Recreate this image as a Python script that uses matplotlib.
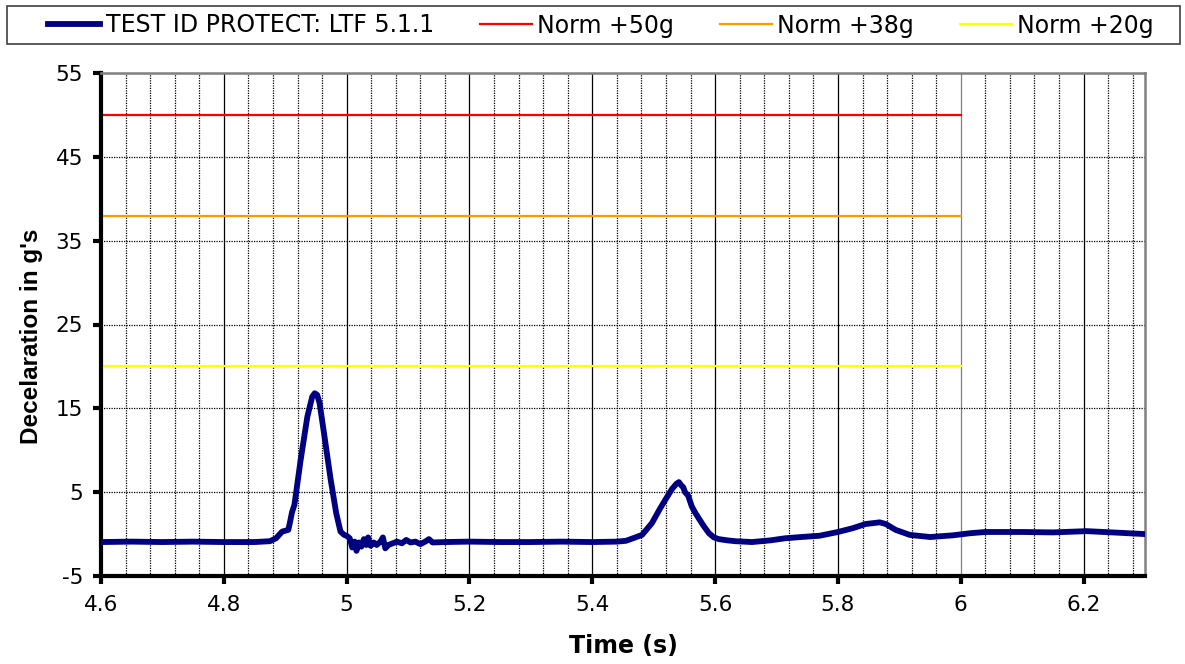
import numpy as np
import matplotlib
matplotlib.use("Agg")
from matplotlib import pyplot as plt
from matplotlib.patches import Rectangle

plt.rcParams["axes.unicode_minus"] = False

time_s = [4.60, 4.65, 4.70, 4.75, 4.80, 4.85, 4.875, 4.885, 4.895, 4.905,
          4.908, 4.911, 4.915, 4.925, 4.936, 4.944, 4.948, 4.952, 4.956, 4.963,
          4.974, 4.983, 4.990, 4.996,
          5.000, 5.005, 5.009, 5.013, 5.016, 5.020, 5.024, 5.028, 5.032, 5.035,
          5.039, 5.044, 5.049, 5.055, 5.059, 5.063, 5.068, 5.075, 5.082, 5.090,
          5.097, 5.104, 5.112, 5.120, 5.128, 5.134, 5.140,
          5.16, 5.20, 5.25, 5.30, 5.35, 5.40, 5.44, 5.455, 5.47, 5.481,
          5.497, 5.510, 5.519, 5.530, 5.537, 5.541, 5.545, 5.548, 5.551, 5.556,
          5.562, 5.568, 5.574, 5.582, 5.590, 5.598, 5.606, 5.620, 5.633, 5.660,
          5.690, 5.714, 5.740, 5.770, 5.800, 5.824, 5.845, 5.868, 5.878, 5.894,
          5.917, 5.950, 5.987, 6.015, 6.040, 6.100, 6.150, 6.205, 6.260, 6.300]
decel_g = [-0.95, -0.9, -0.95, -0.9, -0.95, -0.95, -0.85, -0.5, 0.3, 0.5,
           1.5, 2.6, 3.5, 8.8, 14.0, 16.4, 16.8, 16.6, 15.6, 12.1,
           6.5, 2.5, 0.3, -0.1,
           -0.2, -0.5, -1.6, -0.9, -2.0, -1.0, -1.5, -0.6, -1.3, -0.4,
           -1.4, -1.0, -1.3, -0.9, -0.4, -1.7, -1.3, -1.1, -0.9, -1.1,
           -0.7, -1.0, -0.9, -1.2, -0.9, -0.6, -1.0,
           -0.95, -0.9, -0.95, -0.95, -0.9, -0.95, -0.9, -0.8, -0.4, -0.1,
           1.3, 3.0, 4.1, 5.4, 6.0, 6.2, 5.8, 5.6, 5.0, 4.6,
           3.3, 2.5, 1.8, 0.9, 0.1, -0.4, -0.6, -0.75, -0.85, -0.95,
           -0.75, -0.5, -0.35, -0.2, 0.25, 0.7, 1.2, 1.4, 1.2, 0.5,
           -0.1, -0.35, -0.15, 0.1, 0.25, 0.25, 0.2, 0.35, 0.15, 0.0]

norm_t = [4.6, 6.0]
norm_50 = [50, 50]
norm_38 = [38, 38]
norm_20 = [20, 20]

x_major = [4.6, 4.8, 5.0, 5.2, 5.4, 5.6, 5.8, 6.0, 6.2]
x_labels = ["4.6", "4.8", "5", "5.2", "5.4", "5.6", "5.8", "6", "6.2"]
y_major = [-5, 5, 15, 25, 35, 45, 55]

fig = plt.figure(figsize=(11.85, 6.64), dpi=100)
ax = fig.add_axes([101/1185, 1-576/664, (1145-101)/1185, (576-73)/664])

ax.set_xlim(4.6, 6.3)
ax.set_ylim(-5, 55)
ax.set_xticks(x_major)
ax.set_xticklabels(x_labels)
ax.set_xticks(np.round(np.arange(4.64, 6.3, 0.04), 2), minor=True)
ax.set_yticks(y_major)

# grid
ax.grid(which="major", axis="x", color="black", linewidth=0.9)
ax.grid(which="minor", axis="x", color="black", linewidth=0.9, linestyle=(0, (1, 1)))
ax.grid(which="major", axis="y", color="black", linewidth=0.9, linestyle=(0, (1, 1)))
ax.get_xgridlines()[7].set_color("#808080")
ax.set_axisbelow(True)

l1, = ax.plot(time_s, decel_g, color="#000080", linewidth=4.2,
              solid_joinstyle="round", label="TEST ID PROTECT: LTF 5.1.1", zorder=5)
l2, = ax.plot(norm_t, norm_50, color="#FF0000", linewidth=1.6, label="Norm +50g")
l3, = ax.plot(norm_t, norm_38, color="#FF9900", linewidth=1.6, label="Norm +38g")
l4, = ax.plot(norm_t, norm_20, color="#FFFF00", linewidth=1.6, label="Norm +20g")

ax.tick_params(axis="both", which="major", direction="out", length=6, width=3,
               labelsize=15.5, color="black")
ax.tick_params(axis="x", which="minor", length=0)
ax.tick_params(axis="x", pad=8)
ax.tick_params(axis="y", pad=7)

for s in ["left", "bottom"]:
    ax.spines[s].set_linewidth(3)
    ax.spines[s].set_color("black")
for s in ["top", "right"]:
    ax.spines[s].set_linewidth(1.8)
    ax.spines[s].set_color("#808080")

ax.set_xlabel("Time (s)", fontsize=17, fontweight="bold", family="DejaVu Sans", labelpad=13)
ax.set_ylabel("Decelaration in g's", fontsize=17.5, fontweight="bold",
              family="Liberation Sans")
ax.yaxis.set_label_coords(-0.056, 0.477)

# legend box across the top
fig.patches.append(Rectangle((7/1185, 1-44/664), (1180-7)/1185, 38/664,
                             transform=fig.transFigure, fill=False,
                             edgecolor="#404040", linewidth=1.2))
leg = fig.legend(handles=[l1, l2, l3, l4], loc="center",
                 bbox_to_anchor=(601/1185, 1-25.5/664),
                 ncol=4, fontsize=17, frameon=False,
                 handlelength=2.2, handletextpad=0.22, columnspacing=1.95)

fig.savefig("out.png", dpi=100)
